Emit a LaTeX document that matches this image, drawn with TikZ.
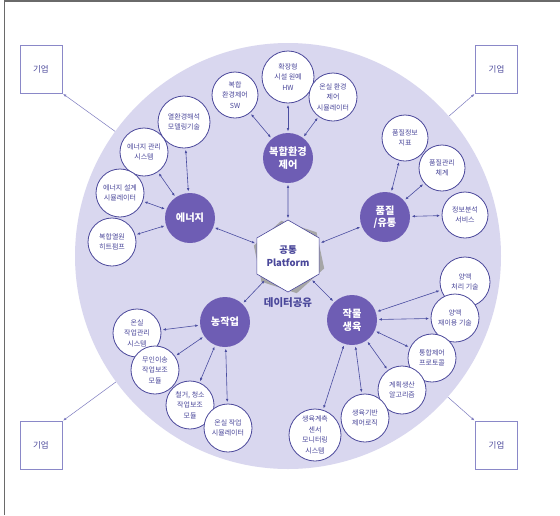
\documentclass[tikz,border=0pt]{standalone}
\usepackage{fontspec}
\setmainfont{Noto Sans CJK KR}
\usetikzlibrary{shapes.geometric,arrows.meta}
\definecolor{bigc}{HTML}{D9D7EF}
\definecolor{catc}{HTML}{6E5DB4}
\definecolor{navy}{HTML}{4A479A}
\definecolor{linec}{HTML}{4A4DA0}
\definecolor{boxc}{HTML}{8A88C8}
\definecolor{framec}{HTML}{6A6A6A}
\tikzset{
  leaf/.style={circle, draw=navy, line width=0.8pt, fill=white, minimum size=48pt, inner sep=0pt, align=center, text=navy, font=\fontsize{7}{10.5}\selectfont},
  catnode/.style={circle, fill=catc, minimum size=50pt, inner sep=0pt, align=center, text=white, font=\fontsize{10.2}{12.5}\selectfont\bfseries},
  arr/.style={{Latex[length=3.2pt,width=2.6pt]}-{Latex[length=3.2pt,width=2.6pt]}, line width=0.6pt, draw=linec, shorten <=1.5pt, shorten >=1.5pt},
  boxnode/.style={draw=boxc, line width=0.7pt, minimum width=42pt, minimum height=48pt, inner sep=0pt, text=navy, font=\fontsize{8.5}{10}\selectfont},
  outarr/.style={{Latex[length=3.2pt,width=2.6pt]}-, line width=0.5pt, draw=boxc!80!navy, shorten <=1pt}
}
\begin{document}
\begin{tikzpicture}[x=1pt,y=-1pt]
\useasboundingbox (0,0) rectangle (560,515);
\fill[white] (0,0) rectangle (560,515);
\draw[framec, line width=1.6pt] (4.5,515) -- (4.5,1) -- (560,1);

% big circle
\node[circle, fill=bigc, minimum size=426pt, inner sep=0pt] (big) at (288,256) {};

% boxes
\node[boxnode] (b1) at (41,69) {기업};
\node[boxnode] (b2) at (496.5,69) {기업};
\node[boxnode] (b3) at (41,445.5) {기업};
\node[boxnode] (b4) at (496.5,445.5) {기업};
\draw[outarr] (b1.south east) -- (big);
\draw[outarr] (b2.south west) -- (big);
\draw[outarr] (b3.north east) -- (big);
\draw[outarr] (b4.north west) -- (big);

% central hexagon
\node[regular polygon, regular polygon sides=6, shape border rotate=42, fill=black!35, minimum size=74pt, inner sep=0pt] (hexsh) at (289,257) {};
\node[regular polygon, regular polygon sides=6, shape border rotate=30, fill=white, draw=navy, line width=0.6pt, minimum size=72pt, inner sep=0pt, align=center, text=navy, font=\fontsize{9.5}{13}\selectfont\bfseries] (hex) at (288,256) {공통\\Platform};
\node[text=navy, font=\fontsize{10.5}{12}\selectfont\bfseries, inner sep=0pt] (data) at (288,303) {데이터공유};

% top group
\node[leaf, minimum size=46pt] (sw) at (235,95) {복합\\환경제어\\SW};
\node[leaf, minimum size=52pt] (hw) at (288,77) {확장형\\시설 원예\\HW};
\node[leaf] (sim1) at (333,97) {온실 환경\\제어\\시뮬레이터};
\node[catnode] (env) at (288,158) {복합환경\\제어};

% energy group
\node[leaf, minimum size=52pt] (yeol) at (184,122) {열환경해석\\모델링기술};
\node[leaf] (emg) at (144,152) {에너지 관리\\시스템};
\node[leaf] (eds) at (120,193) {에너지 설계\\시뮬레이터};
\node[leaf] (heat) at (112,242) {복합열원\\히트펌프};
\node[catnode] (ene) at (190,218) {에너지};

% quality group
\node[leaf, minimum size=46pt] (qi) at (405,138) {품질정보\\지표};
\node[leaf, minimum size=46pt] (qm) at (442,168) {품질관리\\체계};
\node[leaf, minimum size=46pt] (ia) at (465,215) {정보분석\\서비스};
\node[catnode] (qual) at (385,217) {품질\\/유통};

% farm work group
\node[leaf] (gwm) at (137,333) {온실\\작업관리\\시스템};
\node[leaf] (mi) at (155,370) {무인이송\\작업보조\\모듈};
\node[leaf] (cl) at (190,405) {철거, 청소\\작업보조\\모듈};
\node[leaf] (gsim) at (228,428) {온실 작업\\시뮬레이터};
\node[catnode] (farm) at (225,322) {농작업};

% crop group
\node[leaf, minimum size=50pt] (y1) at (465,282) {양액\\처리 기술};
\node[leaf] (y2) at (455,318) {양액\\재이용 기술};
\node[leaf] (tc) at (432,358) {통합제어\\프로토콜};
\node[leaf] (gp) at (402,390) {계획생산\\알고리즘};
\node[leaf] (gb) at (365,418) {생육기반\\제어로직};
\node[leaf, minimum size=52pt] (gs) at (315,435) {생육계측\\센서\\모니터링\\시스템};
\node[catnode] (crop) at (352,320) {작물\\생육};

% connectors
\foreach \t in {sw,hw,sim1,hex} \draw[arr] (env) -- (\t);
\foreach \t in {yeol,emg,eds,heat,hex} \draw[arr] (ene) -- (\t);
\foreach \t in {qi,qm,ia,hex} \draw[arr] (qual) -- (\t);
\foreach \t in {gwm,mi,cl,gsim,hex} \draw[arr] (farm) -- (\t);
\foreach \t in {y1,y2,tc,gp,gb,gs,hex} \draw[arr] (crop) -- (\t);
\end{tikzpicture}
\end{document}
